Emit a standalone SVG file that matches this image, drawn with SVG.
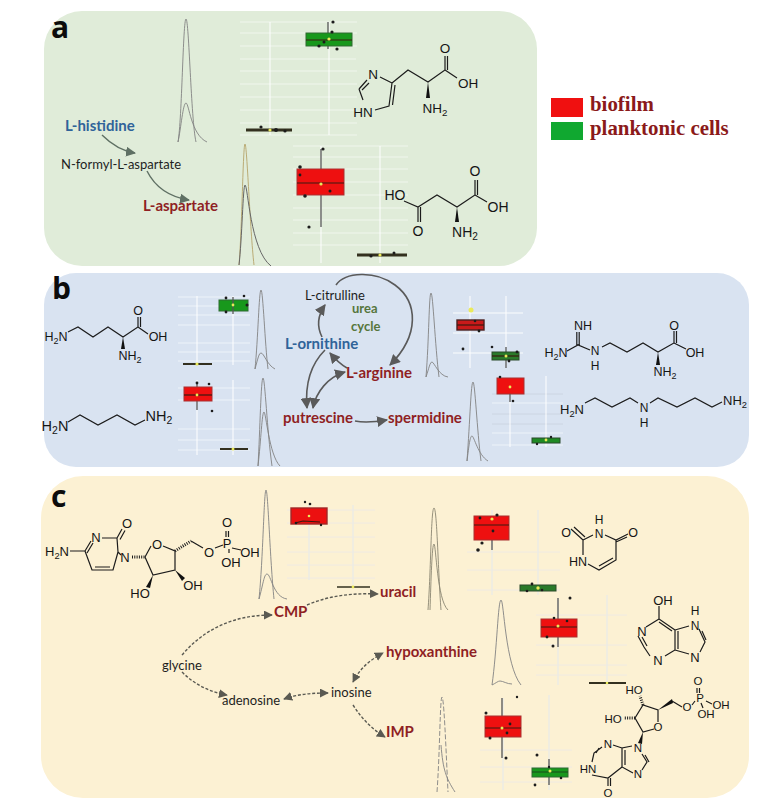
<svg xmlns="http://www.w3.org/2000/svg" width="782" height="810" viewBox="0 0 782 810">
<style>
.m{font-family:"Liberation Sans",Arial,sans-serif;fill:#151515;text-anchor:middle}
.s{font-size:.72em}
.b{fill:none;stroke:#1c1c1c;stroke-width:1.2}
.w{fill:#111;stroke:none}
.h{fill:none;stroke:#1c1c1c;stroke-width:3;stroke-dasharray:1 1.3}
.l{font-family:Lato,"Open Sans",sans-serif;font-size:13px;fill:#1e1e1e}
.lb{font-family:Lato,"Open Sans",sans-serif;font-weight:700;font-size:15px}
.red{fill:#8f1f24}.blue{fill:#2f6399}.grn{fill:#56763c}
.tag{font-family:"Open Sans","Liberation Sans",sans-serif;font-weight:700;font-size:30px;fill:#0c0c0c}
.leg{font-family:"Liberation Serif",serif;font-weight:700;font-size:20.900px;fill:#8b1a1a}
.g{stroke:#fff;stroke-width:.8;fill:none;opacity:.7}
.v{stroke:#fff;stroke-width:1.1;fill:none;opacity:.9}
.gc{stroke:#eeeae4;stroke-width:.9;fill:none}
.vc{stroke:#ecebe6;stroke-width:1.4;fill:none}
.r{fill:#ee1010;stroke:#a83030;stroke-width:1}
.rd{fill:#c81a1a;stroke:#4a2020;stroke-width:1.4}
.gb{fill:#18981c;stroke:#2f6a30;stroke-width:1}
.gd{fill:#2a7a2a;stroke:#2a4a2a;stroke-width:1}
.md{stroke:#3a1a10;stroke-width:1.2;fill:none}
.wk{stroke:#555;stroke-width:1.3;fill:none}
.f{stroke:#33301f;stroke-width:3;fill:none}
.p{fill:#1c1c1c}
.y{fill:#eaea5a}
.pk{fill:none;stroke:#828282;stroke-width:.9}
.pa{fill:none;stroke:#666;stroke-width:1}
.c{fill:none;stroke:#5f7064;stroke-width:1.4}
.d{fill:none;stroke:#5a5a5a;stroke-width:1.6}
.e{fill:none;stroke:#5a5a52;stroke-width:1.4;stroke-dasharray:3 1.8}
</style>
<defs>
<marker id="ac" viewBox="0 0 10 10" refX="9" refY="5" markerWidth="10" markerHeight="10" markerUnits="userSpaceOnUse" orient="auto-start-reverse"><path d="M0 0L10 5L0 10Z" fill="#5f7064"/></marker>
<marker id="ad" viewBox="0 0 10 10" refX="9" refY="5" markerWidth="11" markerHeight="11" markerUnits="userSpaceOnUse" orient="auto-start-reverse"><path d="M0 0L10 5L0 10Z" fill="#5a5a5a"/></marker>
<marker id="ae" viewBox="0 0 10 10" refX="9" refY="5" markerWidth="9" markerHeight="9" markerUnits="userSpaceOnUse" orient="auto-start-reverse"><path d="M0 0L10 5L0 10Z" fill="#5a5a52"/></marker>
</defs>
<rect width="782" height="810" fill="#fff"/>
<g id="panels">
<rect id="panel-a" x="44" y="11" width="493" height="255" rx="38" fill="#e0ecd9"/>
<rect id="panel-b" x="44" y="273" width="705" height="194" rx="32" fill="#d9e3f1"/>
<rect id="panel-c" x="41" y="476" width="708" height="322" rx="42" fill="#fcf1d3"/>
</g>
<g id="tags">
<text class="tag" x="51" y="38">a</text>
<text class="tag" x="52" y="299">b</text>
<text class="tag" x="51" y="507">c</text>
</g>
<g id="legend">
<rect x="551" y="98" width="32" height="19" fill="#f01010"/>
<rect x="551" y="122" width="32" height="18" fill="#10a830"/>
<text class="leg" x="590" y="111">biofilm</text>
<text class="leg" x="590" y="135">planktonic cells</text>
</g>

<g id="connectors">
<path class="c" marker-end="url(#ac)" d="M102 135C112 145 122 151 135 153"/>
<path class="c" marker-end="url(#ac)" d="M147 171C155 187 170 197 189 200"/>
<path class="d" marker-end="url(#ad)" d="M336 285C345 272 375 270 395 285C418 302 420 335 390 365"/>
<path class="d" marker-end="url(#ad)" d="M322 337C316 325 318 315 325 305"/>
<path class="d" marker-end="url(#ad)" d="M347 368C340 364 335 359 330 353"/>
<path class="d" marker-end="url(#ad)" d="M325 350C310 365 305 385 307 408"/>
<path class="d" marker-start="url(#ad)" marker-end="url(#ad)" d="M345 372C328 377 316 392 313 408"/>
<path class="d" marker-end="url(#ad)" d="M355 421C365 423 375 422 387 420"/>
<path class="e" marker-end="url(#ae)" d="M182 655C205 628 235 615 272 615"/>
<path class="e" marker-end="url(#ae)" d="M307 605C330 595 355 593 378 594"/>
<path class="e" marker-end="url(#ae)" d="M182 672C195 685 210 692 227 695"/>
<path class="e" marker-start="url(#ae)" marker-end="url(#ae)" d="M284 699C298 694 313 693 328 693"/>
<path class="e" marker-start="url(#ae)" marker-end="url(#ae)" d="M353 682C360 668 370 660 383 653"/>
<path class="e" marker-end="url(#ae)" d="M353 705C362 719 372 729 385 737"/>
</g>

<g id="node-l-histidine"><text class="lb blue" x="65" y="131">L-histidine</text></g>
<g id="node-n-formyl"><text class="l" x="61" y="169">N-formyl-L-aspartate</text></g>
<g id="node-l-aspartate"><text class="lb red" x="143" y="211">L-aspartate</text></g>
<g id="node-l-citrulline"><text class="l" x="305" y="300">L-citrulline</text></g>
<g id="node-urea-cycle"><text class="lb grn" style="font-size:13px" x="352" y="313">urea</text><text class="lb grn" style="font-size:13px" x="351" y="331">cycle</text></g>
<g id="node-l-ornithine"><text class="lb blue" x="285" y="349">L-ornithine</text></g>
<g id="node-l-arginine"><text class="lb red" x="346" y="378">L-arginine</text></g>
<g id="node-putrescine"><text class="lb red" x="283" y="423">putrescine</text></g>
<g id="node-spermidine"><text class="lb red" x="388" y="423">spermidine</text></g>
<g id="node-cmp"><text class="lb red" x="274" y="617">CMP</text></g>
<g id="node-uracil"><text class="lb red" x="380" y="597">uracil</text></g>
<g id="node-hypoxanthine"><text class="lb red" x="386" y="657">hypoxanthine</text></g>
<g id="node-imp"><text class="lb red" x="386" y="737">IMP</text></g>
<g id="node-glycine"><text class="l" x="162" y="670">glycine</text></g>
<g id="node-adenosine"><text class="l" x="222" y="705">adenosine</text></g>
<g id="node-inosine"><text class="l" x="331" y="697">inosine</text></g>

<!-- panel a plots -->
<g id="plot-histidine">
<path class="pk" d="M178 142C182 120 183 19 186 19C189 19 191 120 196 142"/>
<path class="pk" d="M178 142C181 128 183 103 186 103C189 103 191 135 207 142"/>
<path class="g" d="M240 22H357M240 33H357M240 46H357M240 59H356M240 71H357M240 84H357M240 97H357M240 110H357M240 123H357M240 135H357"/>
<path class="v" d="M270 22V135M329 22V135"/>
<path class="wk" d="M328 22V49"/>
<rect class="gb" x="306" y="33" width="46" height="13"/><path class="md" d="M306 40H352"/>
<circle class="p" cx="333" cy="22" r="1.6"/><circle class="p" cx="332" cy="32" r="1.6"/><circle class="p" cx="319" cy="46" r="1.6"/><circle class="p" cx="337" cy="49" r="1.6"/><circle class="p" cx="324" cy="42" r="1.5"/><circle class="y" cx="329" cy="39" r="1.6"/>
<path class="f" d="M246 130H292"/><circle class="p" cx="261" cy="127" r="1.6"/><circle class="p" cx="276" cy="130" r="2"/><circle class="p" cx="285" cy="131" r="1.6"/><circle class="y" cx="270" cy="130" r="1.6"/>
</g>
<g id="plot-aspartate">
<path class="pk" style="stroke:#b5a46a" d="M239 265C242 230 243 144 245 144C247 144 250 230 254 265"/>
<path class="pa" d="M239 265C242 240 243 185 245 185C248 185 250 250 271 266"/>
<path class="g" d="M293 146H408M293 157H408M293 169H408M293 182H408M293 195H408M293 208H408M293 220H408M293 233H408M293 245H408"/>
<path class="v" d="M321 146V263M380 146V263"/>
<path class="wk" d="M321 149V227"/>
<rect class="r" x="297" y="169" width="47" height="26"/><path class="md" d="M297 183H344"/>
<circle class="p" cx="323" cy="149" r="1.6"/><circle class="p" cx="300" cy="167" r="1.8"/><circle class="p" cx="300" cy="175" r="1.4"/><circle class="p" cx="305" cy="196" r="1.8"/><circle class="p" cx="309" cy="227" r="1.6"/><circle class="p" cx="330" cy="191" r="1.5"/><circle class="y" cx="321" cy="184" r="1.6"/>
<path class="f" d="M357 255H407"/><circle class="p" cx="371" cy="256" r="1.6"/><circle class="p" cx="394" cy="253" r="1.5"/><circle class="y" cx="380" cy="255" r="1.6"/>
</g>
<!-- panel b plots -->
<g id="plot-ornithine">
<path class="pk" d="M255 369C258 340 259 290 261 290C263 290 265 345 268 369"/>
<path class="pk" d="M255 369C258 358 259 353 261 353C264 353 267 365 275 369"/>
<path class="g" d="M178 297H250M178 306H250M178 315H250M178 325H250M178 343H250M178 352H250M178 361H250"/>
<path class="v" d="M197 296V365M233 296V365"/>
<rect class="gb" x="219" y="300" width="29" height="11"/>
<path class="wk" d="M233 297V314"/>
<circle class="p" cx="226" cy="298" r="1.4"/><circle class="p" cx="244" cy="296" r="1.3"/><circle class="p" cx="247" cy="305" r="1.5"/><circle class="p" cx="226" cy="312" r="1.4"/><circle class="y" cx="233" cy="305" r="1.4"/>
<path class="f" style="stroke-width:2" d="M183 364H212"/><circle class="y" cx="197" cy="364" r="1.6"/>
</g>
<g id="plot-putrescine">
<path class="pk" d="M258 466C260 430 261 378 263 378C265 378 267 430 272 466"/>
<path class="pk" d="M258 466C261 440 262 412 264 412C266 412 269 455 280 466"/>
<path class="g" d="M178 388H250M178 400H250M178 429H250M178 440H250M178 450H250"/>
<path class="v" d="M197 380V455M233 380V455"/>
<path class="wk" d="M197 383V410"/>
<rect class="r" x="184" y="387" width="28" height="14"/><path class="md" d="M184 395H212"/>
<circle class="p" cx="197" cy="383" r="1.4"/><circle class="p" cx="209" cy="384" r="1.3"/><circle class="p" cx="212" cy="411" r="1.3"/><circle class="y" cx="197" cy="395" r="1.4"/>
<path class="f" style="stroke-width:2" d="M220 449H248"/><circle class="y" cx="233" cy="449" r="1.5"/>
</g>
<g id="plot-arginine">
<path class="pk" d="M426 377C429 340 429 293 431 293C433 293 435 345 439 377"/>
<path class="pk" d="M426 377C429 368 430 362 432 362C434 362 439 376 448 377"/>
<path class="g" style="stroke-width:1.2;opacity:.9" d="M453 313H523M453 333H523M453 353H523"/>
<path class="v" d="M470 296V368M506 296V368"/>
<path class="wk" d="M506 347V368"/>
<rect class="rd" x="457" y="320" width="27" height="10"/><path class="md" d="M457 325H484"/>
<rect class="gd" x="492" y="352" width="27" height="8"/><path class="md" d="M492 356H519"/>
<circle class="y" cx="471" cy="310" r="2.5"/><circle class="p" cx="463" cy="349" r="1.4"/><circle class="p" cx="492" cy="347" r="1.3"/><circle class="p" cx="479" cy="331" r="1.4"/><circle class="p" cx="475" cy="321" r="1.3"/><circle class="p" cx="517" cy="352" r="1.4"/><circle class="p" cx="509" cy="361" r="1.4"/><circle class="y" cx="506" cy="356" r="1.5"/>
</g>
<g id="plot-spermidine">
<path class="pk" d="M467 461C470 420 471 382 473 382C475 382 477 430 481 461"/>
<path class="pk" d="M467 461C469 445 470 436 472 436C474 436 478 455 488 461"/>
<path class="g" style="stroke:#c9d2e0;opacity:1" d="M492 394H563M492 414H563M492 424H563"/>
<path class="g" d="M492 403H563M492 433H563M492 445H563"/>
<path class="v" d="M510 378V447M546 376V447"/>
<rect class="r" x="497" y="378" width="27" height="16"/>
<path class="wk" d="M510 394V402"/>
<circle class="p" cx="500" cy="377" r="1.3"/><circle class="p" cx="513" cy="401" r="1.3"/><circle class="y" cx="510" cy="387" r="1.4"/>
<rect class="gd" x="532" y="438" width="28" height="5" style="fill:#1f8a24"/><circle class="p" cx="537" cy="444" r="1.2"/><circle class="p" cx="551" cy="437" r="1.2"/><circle class="y" cx="546" cy="440" r="1.4"/>
</g>
<!-- panel c plots -->
<g id="plot-cmp">
<path class="pk" d="M259 599C263 560 264 490 266 490C268 490 270 560 274 599"/>
<path class="pk" d="M259 599C263 585 264 574 267 574C271 574 273 597 287 599"/>
<path class="gc" d="M287 510H375M287 523H375M287 537H375M287 552H375M287 565H375M287 578H375"/>
<path class="vc" d="M309 505V580M353 505V585"/>
<rect class="rd" style="fill:#ec1010;stroke:#a02828" x="291" y="508" width="36" height="16"/>
<path class="md" d="M295 523L303 521L320 522"/>
<circle class="p" cx="305" cy="502" r="1.2"/><circle class="p" cx="310" cy="504" r="1.3"/><circle class="p" cx="296" cy="523" r="1.3"/><circle class="p" cx="321" cy="525" r="1.2"/><circle class="y" cx="309" cy="516" r="1.3"/>
<path class="f" style="stroke-width:1.6" d="M337 587H370"/><circle class="y" cx="353" cy="587" r="1.4"/>
</g>
<g id="plot-uracil">
<path class="pk" style="stroke:#8a8672" d="M428 610C431 570 431 508 434 508C437 508 438 570 441 610"/>
<path class="pk" style="stroke:#8a8672" d="M430 610C431 580 432 544 434 544C436 544 437 600 448 610"/>
<path class="gc" d="M467 552H560M467 570H560M467 590H560"/>
<path class="vc" d="M492 510V595M538 510V595"/>
<path class="wk" d="M492 540V550"/>
<rect class="r" x="474" y="516" width="35" height="24"/><path class="md" d="M474 525H509"/>
<circle class="p" cx="482" cy="543" r="1.6"/><circle class="p" cx="478" cy="550" r="1.8"/><circle class="p" cx="497" cy="515" r="1.6"/><circle class="p" cx="480" cy="518" r="1.4"/><circle class="p" cx="493" cy="531" r="1.4"/><circle class="y" cx="492" cy="519" r="1.6"/>
<rect class="gd" x="520" y="585" width="36" height="6"/><circle class="p" cx="532" cy="584" r="1.4"/><circle class="p" cx="527" cy="591" r="1.3"/><circle class="p" cx="542" cy="590" r="1.3"/><circle class="y" cx="538" cy="588" r="1.7"/>
</g>
<g id="plot-hypoxanthine">
<path class="pk" d="M492 685C497 650 498 600 501 600C504 600 505 665 521 685"/>
<path class="pk" d="M492 685C496 683 498 681 500 681C503 681 507 684 512 684"/>
<path class="gc" d="M536 615H627M536 645H627M536 665H627M536 675H627"/>
<path class="vc" d="M558 598V685M607 595V685"/>
<path class="wk" d="M558 598V647"/>
<rect class="r" x="541" y="619" width="36" height="18"/><path class="md" d="M541 627H577"/>
<circle class="p" cx="570" cy="598" r="1.5"/><circle class="p" cx="554" cy="618" r="1.3"/><circle class="p" cx="567" cy="621" r="1.3"/><circle class="p" cx="547" cy="637" r="1.4"/><circle class="p" cx="553" cy="646" r="1.5"/><circle class="y" cx="558" cy="626" r="1.5"/>
<path class="f" style="stroke-width:1.8" d="M589 683H626"/><circle class="y" cx="607" cy="683" r="1.3"/>
</g>
<g id="plot-imp">
<path class="pk" style="stroke-dasharray:5 2" d="M437 792C440 750 440 697 442 697C444 697 446 750 448 792"/>
<path class="pk" d="M441 745C443 770 446 778 455 792"/>
<path class="gc" d="M480 750H572M480 767H572M480 782H572"/>
<path class="vc" d="M503 698V790M549 695V790"/>
<path class="wk" d="M502 698V758M549 759V785"/>
<rect class="r" x="485" y="716" width="36" height="21"/><path class="md" d="M485 728H521"/>
<rect class="gb" x="532" y="768" width="36" height="9"/><path class="md" d="M532 772H568" style="stroke:#1a4a1a"/>
<circle class="p" cx="517" cy="697" r="1.2"/><circle class="p" cx="486" cy="713" r="1.5"/><circle class="p" cx="490" cy="738" r="1.5"/><circle class="p" cx="506" cy="758" r="1.5"/><circle class="p" cx="510" cy="724" r="1.4"/><circle class="p" cx="507" cy="733" r="1.4"/><circle class="p" cx="537" cy="755" r="1.5"/><circle class="p" cx="535" cy="785" r="1.4"/><circle class="p" cx="549" cy="767" r="1.2"/><circle class="p" cx="561" cy="778" r="1.3"/><circle class="y" cx="502" cy="728" r="1.5"/><circle class="y" cx="550" cy="771" r="1.5"/>
</g>

<!-- molecules -->
<g id="mol-histidine" style="font-size:13.5px">
<path class="b" d="M392 83L408 70L428 82L445 70V56M447.500 70V56M445 70L457 78M392 83L389 106L375 110M395 85L392.500 105M359 89L367 80M362 90L369 83M359 89L363 100M380 77L392 83"/>
<path class="w" d="M428 82L426 98H430Z"/>
<text class="m" x="445" y="53">O</text><text class="m" x="468" y="88">OH</text><text class="m" x="373" y="79">N</text><text class="m" x="363" y="117">HN</text><text class="m" x="435" y="113">NH<tspan class="s" dy="3">2</tspan></text>
</g>
<g id="mol-aspartate" style="font-size:14px">
<path class="b" d="M404 201L418 207L437 195L457 207L475 195V180M477.500 195V180M475 195L487 202M418 207V222M420.500 207V222"/>
<path class="w" d="M457 207L455 222H459Z"/>
<text class="m" x="395" y="200">HO</text><text class="m" x="475" y="176">O</text><text class="m" x="498" y="212">OH</text><text class="m" x="418" y="236">O</text><text class="m" x="465" y="237">NH<tspan class="s" dy="3">2</tspan></text>
</g>
<g id="mol-ornithine" style="font-size:12.5px">
<path class="b" d="M68 332L78 327L93 337L108 327L123 337L138 327V317M140.500 327V317M138 327L148 334"/>
<path class="w" d="M123 337L121 349H125Z"/>
<text class="m" x="56" y="341">H<tspan class="s" dy="3">2</tspan><tspan dy="-3">N</tspan></text><text class="m" x="138" y="315">O</text><text class="m" x="158" y="341">OH</text><text class="m" x="130" y="360">NH<tspan class="s" dy="3">2</tspan></text>
</g>
<g id="mol-putrescine" style="font-size:14.5px">
<path class="b" d="M68 422L80 415L98 425L117 415L135 425L145 420"/>
<text class="m" x="55" y="431">H<tspan class="s" dy="3">2</tspan><tspan dy="-3">N</tspan></text><text class="m" x="159" y="421">NH<tspan class="s" dy="3">2</tspan></text>
</g>
<g id="mol-arginine" style="font-size:12.5px">
<path class="b" d="M567 351L578 345L590 350M576.800 345V332M579.200 345V332M602 347L610 343L627 352L643 343L658 352L674 343V331M676.500 343V331M674 343L686 349"/>
<path class="w" d="M658 352L656 365H660Z"/>
<text class="m" x="583" y="330">NH</text><text class="m" x="556" y="357">H<tspan class="s" dy="3">2</tspan><tspan dy="-3">N</tspan></text><text class="m" style="font-size:12px" x="595" y="355">N</text><text class="m" style="font-size:12px" x="595" y="370">H</text><text class="m" x="674" y="330">O</text><text class="m" x="695" y="357">OH</text><text class="m" x="665" y="376">NH<tspan class="s" dy="3">2</tspan></text>
</g>
<g id="mol-spermidine" style="font-size:13px">
<path class="b" d="M585 403L595 398L612 407L630 398L638 403M650 403L658 398L677 407L695 398L712 407L722 402"/>
<text class="m" x="572" y="414">H<tspan class="s" dy="3">2</tspan><tspan dy="-3">N</tspan></text><text class="m" style="font-size:12px" x="644" y="412">N</text><text class="m" style="font-size:12px" x="644" y="427">H</text><text class="m" x="735" y="405">NH<tspan class="s" dy="3">2</tspan></text>
</g>
<g id="mol-cmp" style="font-size:13px">
<path class="b" d="M70 551H85L91 541M87 553L93 543M102 538L117 538L118 552M118 552L113 570L92 570L85 551M110 567L95 567M117 538L122 529M120 539.500L125 530.500M118 552L121 555M145 557L153 575L175 570L175 551L163 546M151 546L145 557M191 541L203 548M215 548L223 545M226 531V537M228.500 531V537M232 548L241 550M229 549V553"/>
<path class="w" d="M153 575L146 587L150 588Z"/><path class="w" d="M175 570L182 581L185 578Z"/>
<path class="h" d="M132 557H145"/><path class="h" d="M175 551L191 541"/>
<text class="m" x="57" y="556">H<tspan class="s" dy="3">2</tspan><tspan dy="-3">N</tspan></text><text class="m" x="96" y="542">N</text><text class="m" x="125" y="562">N</text><text class="m" x="127" y="528">O</text><text class="m" x="157" y="549">O</text><text class="m" x="140" y="598">HO</text><text class="m" x="193" y="590">OH</text><text class="m" x="209" y="557">O</text><text class="m" x="227" y="548">P</text><text class="m" x="227" y="527">O</text><text class="m" x="250" y="557">OH</text><text class="m" x="231" y="567">OH</text>
</g>
<g id="mol-uracil" style="font-size:12.5px">
<path class="b" d="M571 529L583 540L593 535M574 527L585 537M605 535L616 540L628 534M616 542L627 537M583 540V555M616 540V560L599 570L588 564M613 558L599 566"/>
<text class="m" x="566" y="537">O</text><text class="m" style="font-size:12px" x="599" y="524">H</text><text class="m" style="font-size:12px" x="599" y="538">N</text><text class="m" x="633" y="537">O</text><text class="m" x="578" y="566">HN</text>
</g>
<g id="mol-hypoxanthine" style="font-size:13px">
<path class="b" d="M659 606V619L675 630M659 622L672 631M659 619L646 627M638 636L644 647L650 656M642 637L647 646M665 656L675 650L675 630M678 649V631M675 630L689 626M675 650L689 654M699 629L705 642L700 652M702 631L706 640"/>
<text class="m" x="663" y="605">OH</text><text class="m" x="642" y="636">N</text><text class="m" x="658" y="665">N</text><text class="m" style="font-size:12px" x="695" y="615">H</text><text class="m" style="font-size:12px" x="695" y="630">N</text><text class="m" x="695" y="662">N</text>
</g>
<g id="mol-imp" style="font-size:11.500px">
<path class="b" d="M654 729L643 732L635 718L643 705L658 710V722M672 701L682 707M692 705L695 701M697 688V693M699.500 688V693M706 701L712 704M701 703L703 708M642 754L647 762L642 770M645 755L649 762M633 773L622 767V748L632 746M625 765V750M622 748L613 745M602 747L594 753L592 762M599 748L596 753M592 775L608 778L622 767M608 778V786M610.500 778V786"/>
<path class="w" d="M658 710L672 699L673 703Z"/><path class="w" d="M643 732L638 743L642 744Z"/>
<path class="h" d="M635 718H624"/><path class="h" d="M643 705L640 696"/>
<text class="m" x="658" y="731">O</text><text class="m" x="687" y="711">O</text><text class="m" x="700" y="702">P</text><text class="m" x="698" y="685">O</text><text class="m" x="721" y="709">OH</text><text class="m" x="706" y="718">OH</text><text class="m" x="634" y="694">HO</text><text class="m" x="613" y="723">HO</text><text class="m" x="638" y="752">N</text><text class="m" x="638" y="778">N</text><text class="m" x="608" y="748">N</text><text class="m" x="588" y="773">HN</text><text class="m" x="608" y="797">O</text>
</g>
</svg>
